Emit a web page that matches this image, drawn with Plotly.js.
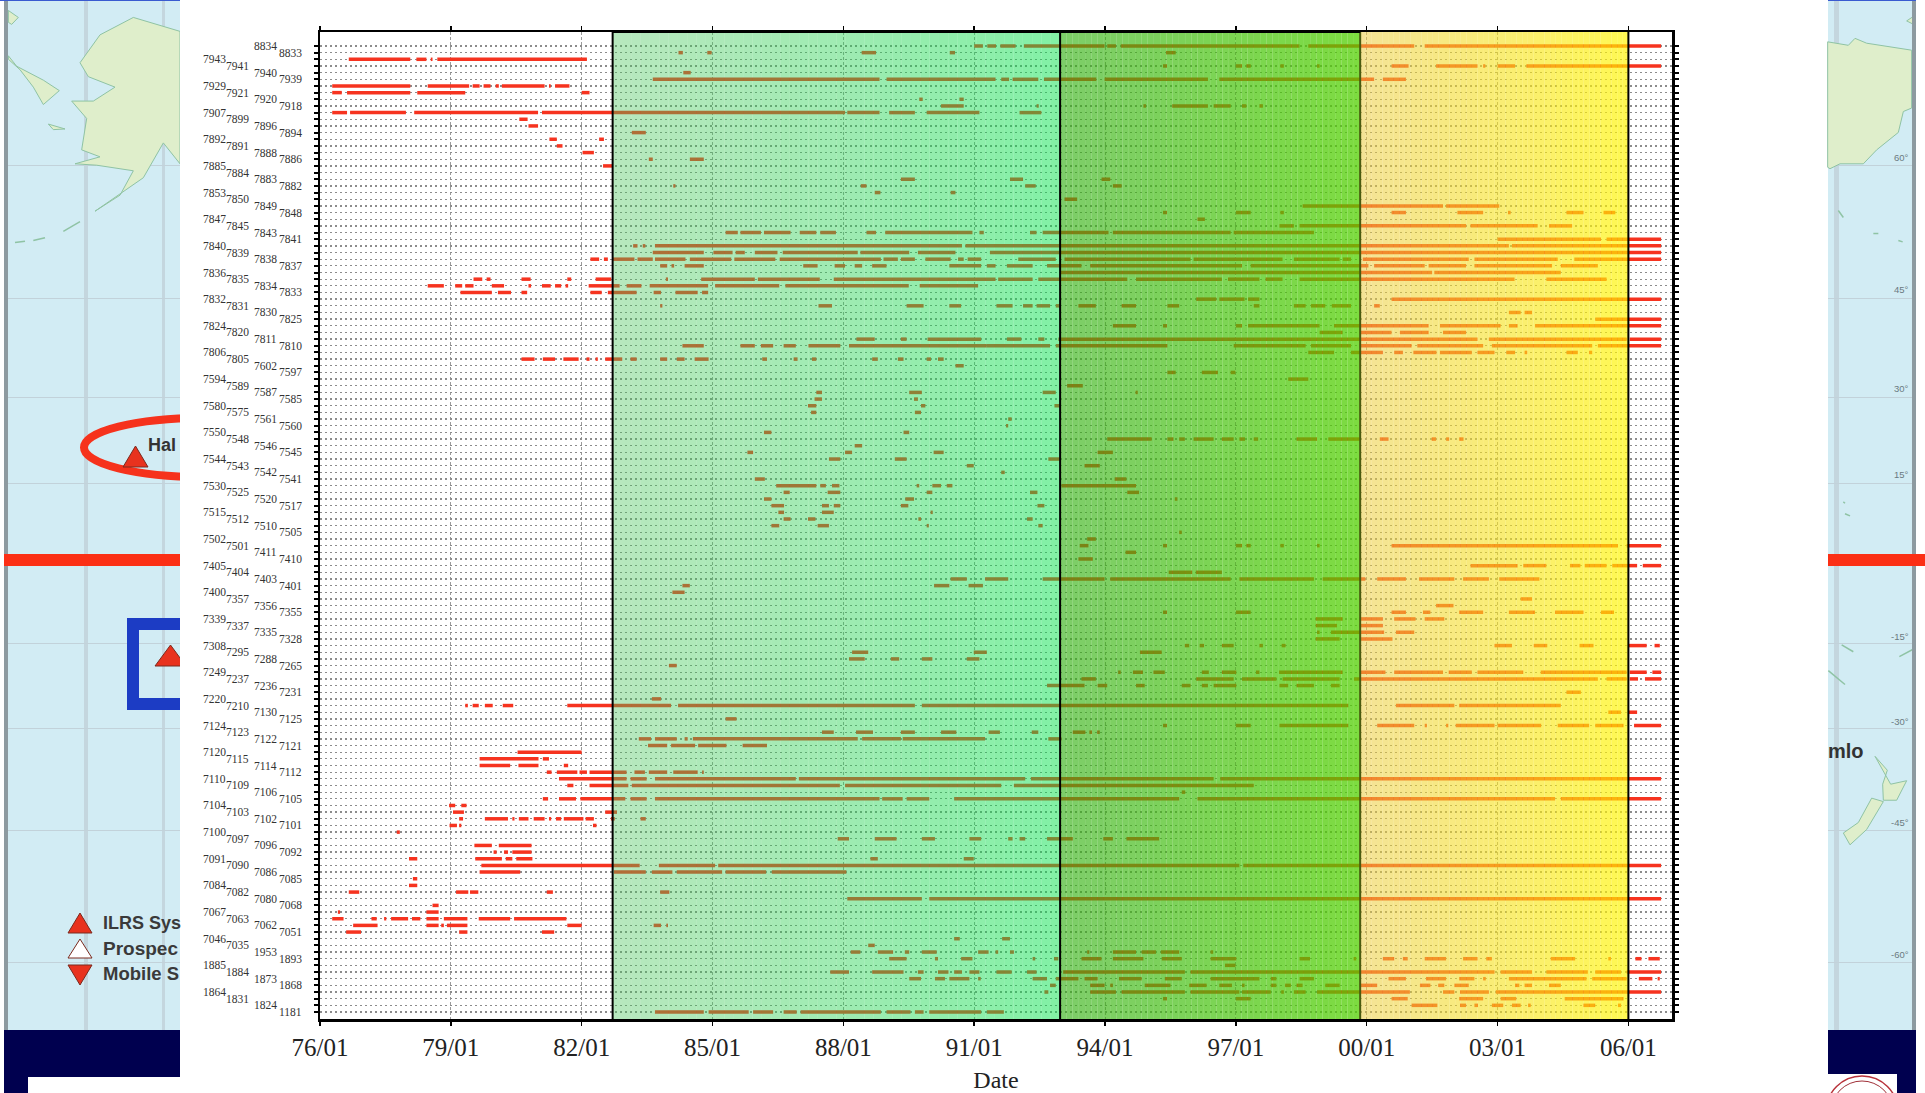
<!DOCTYPE html>
<html><head><meta charset="utf-8">
<script src="https://cdn.plot.ly/plotly-3.0.1.min.js"></script>
<style>html,body{margin:0;padding:0;background:#fff;overflow:hidden}#chart{width:1925px;height:1093px}</style>
</head><body><div id="chart"></div>
<script>
// Stations, top to bottom
const stations=['8834','8833','7943','7941','7940','7939','7929','7921','7920','7918','7907','7899','7896','7894','7892','7891','7888','7886','7885','7884','7883','7882','7853','7850','7849','7848','7847','7845','7843','7841','7840','7839','7838','7837','7836','7835','7834','7833','7832','7831','7830','7825','7824','7820','7811','7810','7806','7805','7602','7597','7594','7589','7587','7585','7580','7575','7561','7560','7550','7548','7546','7545','7544','7543','7542','7541','7530','7525','7520','7517','7515','7512','7510','7505','7502','7501','7411','7410','7405','7404','7403','7401','7400','7357','7356','7355','7339','7337','7335','7328','7308','7295','7288','7265','7249','7237','7236','7231','7220','7210','7130','7125','7124','7123','7122','7121','7120','7115','7114','7112','7110','7109','7106','7105','7104','7103','7102','7101','7100','7097','7096','7092','7091','7090','7086','7085','7084','7082','7080','7068','7067','7063','7062','7051','7046','7035','1953','1893','1885','1884','1873','1868','1864','1831','1824','1181'];
// Observation spans per station, decimal years [start,end]
const none=[];
const s8834=[[1991.0,1991.2],[1991.3,1991.5],[1991.6,1991.95],[1992.14,1993.99],[1994.05,1994.25],[1994.36,1998.46],[1998.66,2001.09],[2001.33,2006.75]];
const s8833=[[1984.22,1984.32],[1984.88,1984.98],[1988.42,1988.75],[1990.44,1990.56],[1995.4,1995.62]];
const s7943=[[1976.66,1978.07],[1978.21,1978.44],[1978.54,1978.58],[1978.69,1982.12]];
const s7941=[[1995.33,1995.42],[1997.0,1997.14],[1997.24,1997.34],[1998.02,1998.1],[1998.86,1998.92],[2000.57,2000.96],[2001.59,2002.54],[2002.67,2002.72],[2003.0,2003.4],[2003.66,2006.75]];
const s7940=[[1984.33,1984.5]];
const s7939=[[1983.63,1988.83],[1988.99,1991.49],[1991.62,1991.8],[1991.88,1992.47],[1992.6,1993.8],[1993.99,1996.36],[1996.62,2000.17],[2000.37,2000.9]];
const s7929=[[1976.28,1978.07],[1978.47,1979.42],[1979.5,1979.66],[1979.75,1979.91],[1980.03,1980.1],[1980.17,1981.15],[1981.25,1981.29],[1981.39,1981.72]];
const s7921=[[1976.28,1976.5],[1976.62,1978.07],[1978.23,1979.33],[1982.0,1982.18]];
const s7920=[[1989.74,1989.82],[1990.66,1990.76]];
const s7918=[[1990.24,1990.76],[1992.43,1992.48],[1994.88,1994.94],[1995.54,1996.36],[1996.49,1996.88],[1997.14,1997.24],[1997.54,1997.62]];
const s7907=[[1976.28,1976.62],[1976.69,1977.97],[1978.16,1981.0],[1981.09,1988.04],[1988.09,1988.83],[1989.05,1989.64],[1989.91,1991.12],[1992.04,1992.54]];
const s7899=[[1980.57,1980.76]];
const s7896=[[1980.78,1981.0]];
const s7894=[[1983.15,1983.47]];
const s7892=[[1981.26,1981.43],[1982.4,1982.51]];
const s7891=[[1981.43,1981.56]];
const s7888=[[1982.02,1982.28]];
const s7886=[[1983.54,1983.63],[1984.48,1984.8]];
const s7885=[[1982.49,1982.7]];
const s7883=[[1989.32,1989.64],[1991.82,1992.12],[1993.92,1994.12]];
const s7882=[[1984.1,1984.15],[1988.4,1988.53],[1992.17,1992.41],[1994.18,1994.38]];
const s7853=[[1988.72,1988.85],[1990.46,1990.57]];
const s7850=[[1993.07,1993.36]];
const s7849=[[1998.53,2001.75],[2001.82,2003.04]];
const s7848=[[1995.33,1995.42],[1997.0,1997.34],[1998.02,1998.1],[2000.57,2000.9],[2002.08,2002.67],[2003.24,2003.3],[2004.58,2004.97],[2005.43,2005.7]];
const s7847=[[1996.12,1996.29]];
const s7845=[[1998.0,1998.33],[1998.46,2002.28],[2002.38,2003.92],[2004.18,2004.71]];
const s7843=[[1985.3,1985.58],[1985.64,1986.11],[1986.18,1986.79],[1987.0,1987.38],[1987.47,1987.83],[1988.53,1988.75],[1988.96,1990.96],[1991.12,1991.22],[1992.28,1992.43],[1992.57,1994.08],[1994.18,1996.88],[1996.95,1998.79]];
const s7841=[[2003.0,2005.37],[2005.5,2006.75]];
const s7840=[[1983.18,1983.28],[1983.4,1983.46],[1983.68,1990.72],[1990.8,2003.26],[2003.33,2006.75]];
const s7839=[[1983.63,1984.8],[1985.02,1985.46],[1985.53,1985.74],[1985.97,1986.49],[1986.61,1988.33],[1988.39,1989.51],[1989.71,1990.57],[1991.36,2006.75]];
const s7838=[[1982.2,1982.4],[1982.51,1982.6],[1982.72,1983.21],[1983.28,1983.63],[1983.68,1984.38],[1984.48,1985.43],[1985.5,1986.44],[1986.54,1988.86],[1988.92,1989.25],[1989.32,1989.64],[1989.88,1990.46],[1990.63,1990.76],[1990.85,1991.16],[1992.01,1992.87],[1993.07,1995.96],[1996.03,1998.07],[1998.33,1999.38],[1999.45,1999.64],[1999.91,2002.34],[2002.47,2004.38],[2004.76,2006.75]];
const s7837=[[1983.8,1983.96],[1984.06,1984.12],[1984.36,1984.8],[1987.08,1987.41],[1987.8,1988.04],[1988.26,1988.43],[1988.66,1988.99],[1990.43,1991.16],[1991.29,1991.49],[1991.75,1992.34],[1992.67,1993.46],[1993.66,1997.14],[1997.34,2000.04],[2000.17,2001.33],[2001.42,2002.28],[2002.47,2004.25],[2004.45,2005.3]];
const s7836=[[1992.97,2001.5],[2001.55,2004.45]];
const s7835=[[1979.52,1979.72],[1979.82,1979.91],[1980.62,1980.83],[1981.67,1981.76],[1982.32,1982.68],[1983.93,1983.98],[1984.74,1985.97],[1986.04,1987.46],[1987.78,1991.49],[1991.55,1992.34],[1992.47,1994.51],[1994.71,1996.68],[1996.82,1997.54],[1997.68,1998.07],[1998.46,2003.39],[2004.12,2005.5]];
const s7834=[[1978.47,1978.84],[1979.1,1979.26],[1979.33,1979.52],[1979.94,1980.22],[1980.78,1980.84],[1981.09,1981.29],[1981.39,1981.53],[1981.63,1981.69],[1982.16,1982.87],[1983.03,1983.37],[1983.56,1984.9],[1985.06,1986.53],[1986.67,1989.5],[1989.75,1991.09]];
const s7833=[[1979.22,1979.94],[1980.08,1980.38],[1980.62,1980.75],[1982.2,1982.46],[1982.6,1983.26],[1983.65,1983.82],[1984.15,1984.66],[1984.76,1984.9]];
const s7832=[[1996.09,1996.55],[1996.62,1997.2],[1997.28,1997.54],[2000.57,2006.75]];
const s7831=[[1983.8,1983.85],[1987.43,1987.74],[1989.45,1989.84],[1990.43,1990.7],[1991.51,1991.88],[1992.12,1992.34],[1992.43,1992.74],[1992.87,1992.96],[1993.39,1993.79],[1994.38,1994.71],[1995.43,1995.7],[1997.41,1997.54],[1998.33,1998.6],[1998.72,1999.05],[1999.2,1999.64],[2000.17,2000.3]];
const s7830=[[2003.26,2003.53],[2003.62,2003.79]];
const s7825=[[2005.24,2006.75]];
const s7824=[[1994.18,1994.71],[1995.33,1995.42],[1997.0,1997.14],[1997.28,1998.92],[1999.25,2001.42],[2001.68,2003.07],[2003.26,2003.46],[2003.86,2006.75]];
const s7820=[[1998.92,1999.45],[1999.84,2000.57],[2000.76,2001.42],[2001.75,2002.28]];
const s7811=[[1988.3,1988.72],[1989.32,1989.45],[1989.93,1991.16],[1991.75,1992.08],[1992.47,1992.61],[1992.93,2002.54],[2002.8,2005.96],[2006.03,2006.75]];
const s7810=[[1984.31,1984.8],[1985.64,1985.97],[1986.11,1986.39],[1986.63,1986.91],[1987.2,1987.93],[1988.13,1991.29],[1991.29,1992.74],[1992.87,1995.43],[1996.95,1998.6],[1998.72,1999.64],[1999.84,2001.03],[2001.16,2002.67],[2002.87,2005.17],[2005.3,2006.75]];
const s7806=[[1998.66,1999.25],[1999.64,2000.37],[2000.63,2000.83],[2001.07,2001.6],[2001.68,2002.41],[2002.54,2002.93],[2003.2,2003.4],[2003.62,2003.68],[2004.58,2004.84],[2005.1,2005.17]];
const s7805=[[1980.62,1980.92],[1981.11,1981.39],[1981.58,1981.93],[1982.11,1982.18],[1982.32,1982.37],[1982.54,1982.93],[1983.12,1983.26],[1983.8,1983.96],[1984.18,1984.36],[1984.59,1984.91],[1986.14,1986.25],[1986.86,1986.95],[1987.28,1987.38],[1988.66,1988.79],[1989.25,1989.38],[1989.91,1990.01],[1990.17,1990.3]];
const s7602=[[1990.57,1990.76]];
const s7597=[[1995.43,1995.62],[1996.22,1996.59],[1996.88,1996.99]];
const s7594=[[1998.2,1998.66]];
const s7589=[[1993.13,1993.49]];
const s7587=[[1987.38,1987.51],[1989.51,1989.8],[1992.57,1992.87],[1994.7,1994.75]];
const s7585=[[1987.34,1987.51],[1989.62,1989.71]];
const s7580=[[1987.19,1987.38],[1989.78,1989.88],[1992.84,1992.96]];
const s7575=[[1987.26,1987.38],[1989.64,1989.78]];
const s7561=[[1991.78,1991.86]];
const s7560=[[1991.73,1991.78]];
const s7550=[[1986.18,1986.35],[1989.38,1989.51]];
const s7548=[[1994.05,1995.07],[1995.43,1995.57],[1995.7,1995.83],[1996.03,1996.49],[1996.68,1996.95],[1997.08,1997.21],[1997.41,1997.51],[1998.39,1998.86],[1999.12,1999.84],[2000.3,2000.5],[2001.49,2001.59],[2001.82,2001.89],[2002.12,2002.22]];
const s7546=[[1988.26,1988.43]];
const s7545=[[1985.8,1985.93],[1988.04,1988.2],[1990.07,1990.3],[1993.83,1994.18]];
const s7544=[[1987.67,1987.93],[1989.18,1989.45],[1992.7,1992.96]];
const s7543=[[1990.83,1990.99],[1993.53,1993.88]];
const s7542=[[1991.62,1991.7]];
const s7541=[[1985.97,1986.2],[1994.22,1994.49]];
const s7530=[[1986.46,1987.38],[1987.47,1987.6],[1987.74,1987.91],[1989.68,1989.74],[1990.04,1990.24],[1990.37,1990.5],[1993.0,1994.71]];
const s7525=[[1986.63,1986.77],[1987.64,1987.93],[1989.91,1990.04],[1992.28,1992.45],[1994.51,1994.78]];
const s7520=[[1986.18,1986.35],[1989.42,1989.62],[1995.6,1995.66]];
const s7517=[[1986.35,1986.64],[1987.51,1987.67],[1987.78,1987.93],[1989.32,1989.49],[1992.45,1992.61]];
const s7515=[[1986.51,1986.64],[1987.51,1987.78],[1990.0,1990.05]];
const s7512=[[1986.63,1986.79],[1987.19,1987.36],[1989.72,1989.78],[1992.21,1992.34]];
const s7510=[[1986.35,1986.53],[1987.41,1987.67],[1989.91,1989.96],[1992.47,1992.57]];
const s7505=[[1995.7,1995.76]];
const s7502=[[1993.59,1993.79]];
const s7501=[[1993.42,1993.62],[1995.33,1995.42],[1997.0,1997.14],[1997.24,1997.34],[1998.02,1998.1],[1998.86,1998.92],[2000.57,2002.87],[2002.87,2005.76],[2005.96,2006.75]];
const s7411=[[1994.47,1994.71]];
const s7410=[[1993.39,1993.72]];
const s7405=[[2002.38,2003.46],[2003.59,2004.12],[2004.66,2004.9],[2005.0,2005.5],[2005.63,2006.2],[2006.33,2006.75]];
const s7404=[[1995.46,1996.0],[1996.08,1996.68]];
const s7403=[[1990.46,1990.83],[1991.25,1991.78],[1992.57,1993.99],[1994.12,1996.88],[1997.08,1998.79],[1998.99,1999.97],[2000.24,2000.9],[2001.2,2002.01],[2002.21,2002.8],[2003.04,2003.96]];
const s7401=[[1984.31,1984.48],[1990.08,1990.43],[1990.87,1991.2]];
const s7400=[[1984.08,1984.36]];
const s7357=[[2003.53,2003.79]];
const s7356=[[2001.59,2001.99]];
const s7355=[[1995.33,1995.42],[1997.0,1997.34],[2000.57,2000.9],[2001.29,2001.46],[2002.12,2002.67],[2003.26,2003.86],[2004.32,2004.97],[2005.37,2005.67]];
const s7339=[[1998.83,1999.45],[1999.84,2000.37],[2000.63,2001.12],[2001.33,2001.78]];
const s7337=[[1998.83,1999.32],[1999.84,2000.37]];
const s7335=[[1998.86,1998.92],[1999.18,2000.4],[2000.67,2001.09]];
const s7328=[[1998.83,1999.38],[1999.84,2000.59]];
const s7308=[[1995.83,1995.93],[1996.17,1996.27],[1996.68,1996.95],[1997.54,1997.62],[1998.05,1998.14],[2002.93,2003.33],[2003.83,2004.14],[2004.88,2005.2],[2006.0,2006.42],[2006.6,2006.72]];
const s7295=[[1988.2,1988.57],[1990.99,1991.29],[1994.8,1995.3]];
const s7288=[[1988.13,1988.49],[1989.09,1989.28],[1989.8,1990.04],[1990.83,1991.12]];
const s7265=[[1984.0,1984.18]];
const s7249=[[1994.3,1994.36],[1994.64,1994.87],[1995.11,1995.37],[1996.22,1996.38],[1996.68,1997.01],[1997.46,1997.54],[1997.99,1999.45],[1999.84,2000.43],[2000.63,2001.75],[2001.88,2002.41],[2002.54,2003.59],[2003.99,2005.96],[2006.03,2006.42],[2006.55,2006.75]];
const s7237=[[1993.46,1993.79],[1996.09,1996.95],[1997.14,1997.93],[1998.07,1999.38],[1999.71,2005.3],[2005.5,2005.96],[2006.03,2006.22],[2006.38,2006.75]];
const s7236=[[1992.67,1993.53],[1993.83,1994.05],[1994.71,1994.91],[1995.76,1995.96],[1996.22,1996.36],[1996.49,1997.01],[1998.0,1998.2],[1998.39,1998.79],[1999.18,1999.38]];
const s7231=[[2004.58,2004.91]];
const s7220=[[1983.61,1983.82]];
const s7210=[[1979.33,1979.39],[1979.5,1979.64],[1979.78,1979.96],[1980.19,1980.43],[1981.67,1984.05],[1984.21,1989.64],[1989.8,1999.58],[2000.67,2002.01],[2002.12,2004.45]];
const s7130=[[2005.54,2005.83],[2006.0,2006.2]];
const s7125=[[1985.3,1985.55]];
const s7124=[[1995.33,1995.42],[1997.0,1997.34],[1998.0,1999.58],[2000.24,2001.09],[2001.33,2001.38],[2001.82,2001.87],[2002.04,2002.93],[2003.0,2004.0],[2004.38,2005.1],[2005.24,2005.89],[2006.13,2006.75]];
const s7123=[[1987.51,1987.78],[1988.29,1988.68],[1989.32,1989.64],[1990.24,1990.59],[1991.33,1991.59],[1992.32,1992.47],[1993.26,1993.55],[1993.64,1993.7],[1993.82,1993.88]];
const s7122=[[1983.31,1983.59],[1983.68,1984.18],[1984.36,1984.43],[1984.55,1988.33],[1988.43,1989.32],[1989.36,1991.25],[1992.7,1993.0]];
const s7121=[[1983.52,1983.96],[1984.05,1984.6],[1984.67,1985.32],[1985.69,1986.25]];
const s7120=[[1980.53,1982.0]];
const s7115=[[1979.66,1981.01],[1981.11,1981.25]];
const s7114=[[1979.66,1980.36],[1980.55,1981.01],[1981.59,1981.69]];
const s7112=[[1981.2,1981.31],[1981.43,1981.9],[1981.95,1982.12],[1982.18,1983.03],[1983.21,1983.45],[1983.54,1983.96],[1984.1,1984.66],[1984.76,1984.8]];
const s7110=[[1981.48,1983.03],[1983.12,1983.49],[1983.68,1986.91],[1986.98,1992.17],[1992.3,1996.49],[1996.64,2006.75]];
const s7109=[[1981.67,1981.81],[1982.18,1983.07],[1983.15,1987.92],[1988.04,1991.62],[1991.91,1997.41]];
const s7106=[[1995.76,1995.84]];
const s7105=[[1981.11,1981.23],[1981.48,1981.87],[1981.97,1983.0],[1983.12,1983.49],[1983.68,1988.83],[1988.89,1989.36],[1989.45,1989.97],[1990.54,1995.7],[1996.12,2004.32],[2004.45,2006.75]];
const s7104=[[1978.96,1979.1],[1979.24,1979.36]];
const s7103=[[1979.05,1979.3],[1982.54,1982.81]];
const s7102=[[1979.19,1979.28],[1979.78,1980.31],[1980.41,1980.46],[1980.56,1980.78],[1980.9,1981.15],[1981.25,1981.3],[1981.41,1981.53],[1981.59,1982.04],[1982.09,1982.28],[1982.67,1982.76],[1983.35,1983.47]];
const s7101=[[1978.97,1979.14],[1979.19,1979.24],[1982.26,1982.34]];
const s7100=[[1977.76,1977.83]];
const s7097=[[1987.87,1988.13],[1988.72,1989.22],[1989.8,1990.1],[1990.89,1991.16],[1991.78,1991.88],[1992.04,1992.17],[1992.67,1993.26],[1993.96,1994.18],[1994.49,1995.24]];
const s7096=[[1979.54,1979.94],[1980.1,1980.85]];
const s7092=[[1979.98,1980.05],[1980.22,1980.31],[1980.41,1980.85]];
const s7091=[[1978.04,1978.23],[1979.56,1980.17],[1980.26,1980.41],[1980.5,1980.87],[1988.62,1988.79],[1990.76,1990.99]];
const s7090=[[1979.7,1983.33],[1983.77,1985.06],[1985.13,1997.08],[1997.17,2006.75]];
const s7086=[[1979.66,1980.59],[1982.74,1983.47],[1983.61,1984.08],[1984.18,1985.22],[1985.3,1986.23],[1986.36,1988.07]];
const s7085=[[1978.13,1978.23]];
const s7084=[[1978.04,1978.23]];
const s7082=[[1976.66,1976.9],[1979.12,1979.4],[1979.44,1979.63],[1981.2,1981.34],[1983.8,1984.01]];
const s7080=[[1988.09,1989.8],[1989.97,2006.75]];
const s7068=[[1978.58,1978.72]];
const s7067=[[1976.41,1976.46],[1978.44,1978.72]];
const s7063=[[1976.28,1976.54],[1977.18,1977.3],[1977.47,1977.52],[1977.63,1978.02],[1978.11,1978.3],[1978.44,1978.72],[1978.84,1979.38],[1979.64,1980.36],[1980.45,1981.65]];
const s7062=[[1976.76,1977.32],[1978.44,1978.72],[1978.78,1978.84],[1978.91,1979.38],[1981.67,1982.0],[1983.65,1983.82],[1983.94,1983.98]];
const s7051=[[1976.6,1976.94],[1979.19,1979.38],[1981.09,1981.37]];
const s7046=[[1990.54,1990.67],[1991.64,1991.82]];
const s7035=[[1988.57,1988.72]];
const s1953=[[1988.17,1988.39],[1988.79,1989.14],[1989.41,1989.51],[1989.8,1990.14],[1991.09,1991.33],[1991.49,1991.55],[1991.82,1991.91],[1993.59,1993.64],[1994.18,1994.71],[1994.84,1995.17],[1995.28,1995.7],[1996.42,1996.48]];
const s1893=[[1989.05,1989.45],[1990.1,1990.17],[1990.7,1990.96],[1992.34,1992.4],[1992.83,1992.93],[1993.46,1993.92],[1994.18,1994.88],[1995.3,1995.76],[1996.42,1997.01],[1998.46,1998.7],[1999.7,1999.76],[2000.37,2000.63],[2000.83,2000.94],[2001.33,2001.82],[2002.21,2002.54],[2002.74,2002.87],[2004.22,2004.78],[2005.54,2005.6],[2006.16,2006.3],[2006.46,2006.72]];
const s1885=[[1996.75,1996.99]];
const s1884=[[1987.7,1988.13],[1988.66,1989.38],[1989.71,1989.84],[1990.17,1990.41],[1990.54,1990.72],[1990.89,1991.12],[1991.51,1991.86],[1992.21,1992.43],[1993.04,1995.83],[1995.96,2002.93],[2003.07,2003.79],[2004.12,2005.07],[2005.24,2005.83],[2005.96,2006.75]];
const s1873=[[1989.51,1989.78],[1990.1,1990.33],[1990.43,1990.89],[1991.09,1991.15],[1992.34,1992.67],[1992.87,1993.39],[1993.53,1993.83],[1994.32,1994.84],[1995.37,1995.76],[1996.42,1997.54],[1997.8,1997.93],[1998.46,1998.79],[2000.5,2000.9],[2001.36,2001.82],[2002.12,2002.47],[2002.67,2002.73],[2003.26,2005.04],[2005.17,2005.96],[2006.24,2006.55],[2006.67,2006.72]];
const s1868=[[1992.74,1992.87],[1993.66,1993.99],[1994.12,1994.18],[1994.91,1995.5],[1995.93,1996.33],[1996.62,1996.91],[1997.14,1997.2],[1997.8,1997.93],[1998.13,1998.26],[1998.39,1998.53],[1999.05,1999.38],[1999.84,2000.24],[2001.22,2001.46],[2001.64,2001.78],[2002.01,2002.34],[2003.4,2003.5],[2003.62,2003.79],[2004.18,2004.45]];
const s1864=[[1992.61,1992.7],[1993.66,1994.25],[1994.38,1995.83],[1995.96,1997.08],[1997.14,1997.8],[1998.04,1998.1],[1998.33,1998.6],[1998.86,2000.99],[2001.75,2002.01],[2002.14,2002.8],[2002.96,2006.75]];
const s1831=[[1995.33,1995.42],[1997.0,1997.34],[2000.57,2000.94],[2002.12,2002.67],[2003.07,2003.43],[2004.54,2005.89]];
const s1824=[[2001.03,2001.62],[2002.14,2002.28],[2002.47,2002.55],[2002.87,2003.13],[2003.33,2003.53],[2003.7,2003.76],[2004.97,2005.24],[2005.76,2005.83]];
const s1181=[[1983.68,1984.8],[1984.91,1985.83],[1985.93,1986.39],[1986.63,1986.93],[1987.02,1988.86],[1988.99,1989.54],[1989.64,1989.84],[1989.97,1991.16],[1991.29,1991.68]];
const rows=[s8834,s8833,s7943,s7941,s7940,s7939,s7929,s7921,s7920,s7918,s7907,s7899,s7896,s7894,s7892,s7891,s7888,s7886,s7885,none,s7883,s7882,s7853,s7850,s7849,s7848,s7847,s7845,s7843,s7841,s7840,s7839,s7838,s7837,s7836,s7835,s7834,s7833,s7832,s7831,s7830,s7825,s7824,s7820,s7811,s7810,s7806,s7805,s7602,s7597,s7594,s7589,s7587,s7585,s7580,s7575,s7561,s7560,s7550,s7548,s7546,s7545,s7544,s7543,s7542,s7541,s7530,s7525,s7520,s7517,s7515,s7512,s7510,s7505,s7502,s7501,s7411,s7410,s7405,s7404,s7403,s7401,s7400,s7357,s7356,s7355,s7339,s7337,s7335,s7328,s7308,s7295,s7288,s7265,s7249,s7237,s7236,s7231,s7220,s7210,s7130,s7125,s7124,s7123,s7122,s7121,s7120,s7115,s7114,s7112,s7110,s7109,s7106,s7105,s7104,s7103,s7102,s7101,s7100,s7097,s7096,s7092,s7091,s7090,s7086,s7085,s7084,s7082,s7080,s7068,s7067,s7063,s7062,s7051,s7046,s7035,s1953,s1893,s1885,s1884,s1873,s1868,s1864,s1831,s1824,s1181];
const tickYears=[1976,1979,1982,1985,1988,1991,1994,1997,2000,2003,2006];
const tickLabels=['76/01','79/01','82/01','85/01','88/01','91/01','94/01','97/01','00/01','03/01','06/01'];
// Era bands: start, end
const bandEdges=[[1982.71,1992.97],[1992.97,1999.85],[1999.85,2006.0]];

const W=1925,H=1093,L=320,R=1672,T=32,B=1019;
const fx=p=>(p-L)/(R-L), fy=p=>1-(p-T)/(B-T);
const xs=[],ys=[];
rows.forEach((r,i)=>r.forEach(sp=>{xs.push(sp[0],sp[1],null);ys.push(stations[i],stations[i],null);}));

const shapes=[];
const rect=(x0,y0,x1,y1,fill,extra)=>shapes.push(Object.assign({type:'rect',xref:'paper',yref:'paper',x0:fx(x0),x1:fx(x1),y0:fy(y0),y1:fy(y1),fillcolor:fill,line:{width:0},layer:'below'},extra||{}));
const poly=(pts,fill,stroke,w)=>shapes.push({type:'path',xref:'paper',yref:'paper',path:'M'+pts.map(p=>fx(p[0])+','+fy(p[1])).join('L')+(fill?'Z':''),fillcolor:fill||'rgba(0,0,0,0)',line:{color:stroke,width:w},layer:'below'});
const lz=a=>a.map(p=>[p[0]/3,p[1]/1.4346]), rz=a=>a.map(p=>[1800+p[0]/3,p[1]/1.4346]);
const ocean='#d2ecf4',land='#dfeecb',coast='#8fc3a4',gridc='#c2d2da';
const latLines=[165,298,397,483,643,728,830,962];
// left map panel
rect(4,0,180,1030,ocean);
rect(4,0,8,1030,'#8d9aa0');
rect(84,0,88,1030,'#c4d6de');rect(162,0,165,1030,'#c4d6de');
latLines.forEach(y=>rect(8,y,180,y+1,gridc));
poly(lz([[540,45],[400,25],[300,50],[240,90],[265,110],[345,125],[280,145],[215,145],[260,170],[245,215],[300,225],[225,235],[290,237],[400,245],[360,280],[285,303],[430,255],[490,205],[540,235]]),land,coast,1);
poly(lz([[25,85],[60,100],[100,125],[130,150],[178,130],[130,115],[50,95],[25,80]]),land,coast,1);
poly(lz([[25,15],[55,25],[35,35],[25,32]]),land,coast,1);
poly(lz([[145,178],[195,185],[160,186]]),land,coast,1);
[[[45,348],[75,346]],[[100,345],[135,341]],[[190,332],[240,318]]].forEach(a=>poly(lz(a),null,coast,1.5));
shapes.push({type:'circle',xref:'paper',yref:'paper',x0:fx(84),x1:fx(320),y0:fy(418),y1:fy(477),fillcolor:'rgba(0,0,0,0)',line:{color:'#f6321c',width:8},layer:'below'});
shapes.push({type:'rect',xref:'paper',yref:'paper',x0:fx(133),x1:fx(320),y0:fy(624),y1:fy(704),fillcolor:'rgba(0,0,0,0)',line:{color:'#1c3cc4',width:12},layer:'below'});
const tri=(x0,x1,y0,y1,fill)=>poly([[x0,y1],[(x0+x1)/2,y0],[x1,y1]],fill,'#7a2a1e',1);
tri(123,148,446,467,'#e8321e');tri(155,186,645,666,'#e8321e');
tri(68,92,913,933,'#e8321e');tri(68,92,939,958,'#ffffff');tri(68,92,985,965,'#e8321e');
rect(4,554,180,566,'#fb2f15');rect(4,1030,180,1093,'#00004f');rect(28,1077,180,1093,'#ffffff');
// white sheet holding the chart
rect(180,0,1828,1093,'#ffffff');
// right map panel
rect(1828,0,1916,1030,ocean);
rect(1834,0,1839,1030,'#c4d6de');
latLines.forEach(y=>rect(1828,y,1912,y+1,gridc));
poly(rz([[83,60],[145,65],[165,55],[200,62],[335,72],[335,155],[310,160],[295,190],[230,215],[190,235],[120,235],[90,242],[83,240]]),land,coast,1);
poly(rz([[320,30],[345,22],[345,36]]),land,coast,1);
poly(rz([[225,1085],[262,1105],[248,1125],[250,1148],[290,1148],[320,1120],[272,1125]]),land,coast,1);
poly(rz([[130,1195],[150,1212],[200,1190],[250,1150],[215,1145],[175,1180]]),land,coast,1);
[[[115,302],[130,312]],[[220,335],[235,335]],[[295,345],[308,347]],[[130,720],[135,722]],[[135,737],[150,740]],[[85,962],[135,982]],[[125,925],[160,935]],[[298,942],[345,930]]].forEach(a=>poly(rz(a),null,coast,1.5));
rect(1912,0,1916,1030,'#8d9aa0');
rect(1828,554,1925,566,'#fb2f15');
rect(1828,1030,1916,1093,'#00004f');rect(1828,1074,1897,1093,'#ffffff');
shapes.push({type:'circle',xref:'paper',yref:'paper',x0:fx(1826),x1:fx(1898),y0:fy(1076),y1:fy(1148),fillcolor:'rgba(0,0,0,0)',line:{color:'#b8323a',width:1.5},layer:'below'});
shapes.push({type:'circle',xref:'paper',yref:'paper',x0:fx(1831),x1:fx(1893),y0:fy(1081),y1:fy(1143),fillcolor:'rgba(0,0,0,0)',line:{color:'#a03038',width:1},layer:'below'});
rect(0,0,180,1,'#3a5bd0');rect(1828,0,1916,1,'#3a5bd0');
// gradient eras drawn as narrow translucent steps above the marks
const grad=[[[77,197,92,.40],[5,225,75,.50]],[[49,176,17,.63],[81,208,0,.75]],[[236,205,64,.55],[255,245,0,.68]]];
const STEPS=48;
bandEdges.forEach((e,b)=>{for(let k=0;k<STEPS;k++){const t=(k+.5)/STEPS,c=grad[b][0].map((v,j)=>v+(grad[b][1][j]-v)*t);
 shapes.push({type:'rect',xref:'x',yref:'paper',x0:e[0]+(e[1]-e[0])*k/STEPS,x1:e[0]+(e[1]-e[0])*(k+1)/STEPS,y0:0,y1:1,fillcolor:`rgba(${c[0].toFixed(0)},${c[1].toFixed(0)},${c[2].toFixed(0)},${c[3].toFixed(3)})`,line:{width:0},layer:'above'});}});
[bandEdges[0][0],bandEdges[1][0],bandEdges[2][0],bandEdges[2][1]].forEach((x,i)=>shapes.push({type:'line',xref:'x',yref:'paper',x0:x,x1:x,y0:0,y1:1,line:{color:i==2?'#4a5a10':'#000',width:2},layer:'above'}));
shapes.push({type:'line',xref:'x',yref:'paper',x0:bandEdges[0][0],x1:bandEdges[1][1],y0:1,y1:1,line:{color:'#000',width:2},layer:'above'});

const cols=[-94.3,-70.6,-43.3,-17.6];
const annotations=stations.map((s,i)=>({text:s,xref:'paper',x:0,xanchor:'right',xshift:cols[(i+2)%4]+1,yref:'y',y:i,yanchor:'middle',showarrow:false,font:{family:'Liberation Serif',size:11.5,color:'#333'},borderpad:0}));
const deco=(t,x,y,size,color,anchor)=>annotations.push({text:t,xref:'paper',yref:'paper',x:fx(x),y:fy(y),xanchor:anchor||'left',yanchor:'middle',showarrow:false,font:{family:'Liberation Sans',size:size,color:color},borderpad:0});
deco('<b>Hal</b>',147,445,18,'#333');
deco('<b>ILRS Sys</b>',102,923,18,'#3a3a3a');deco('<b>Prospec</b>',102,948,19,'#3a3a3a');deco('<b>Mobile S</b>',102,973,18.5,'#3a3a3a');
deco('<b>mlo</b>',1827,751,20,'#333');
[['60°',157],['45°',289],['30°',389],['15°',474],['-15°',636],['-30°',721],['-45°',822],['-60°',954]].forEach(d=>deco(d[0],1910,d[1],9.5,'#6b7a80','right'));

const trace={type:'scatter',mode:'lines',x:xs,y:ys,line:{color:'#f6331f',width:3.5},connectgaps:false,hoverinfo:'skip',cliponaxis:false};
const layout={width:W,height:H,margin:{l:L,r:W-R,t:T,b:H-B,pad:0},paper_bgcolor:'rgba(0,0,0,0)',plot_bgcolor:'rgba(0,0,0,0)',showlegend:false,
 shapes,annotations,
 xaxis:{type:'linear',range:[1976,2007],tickmode:'array',tickvals:tickYears,ticktext:tickLabels,ticks:'outside',ticklen:4,tickwidth:1.5,tickcolor:'#000',showline:true,linewidth:2.5,linecolor:'#000',mirror:'ticks',showgrid:true,gridcolor:'#9a9a9a',griddash:'3px,2px',gridwidth:1,zeroline:false,tickfont:{family:'Liberation Serif',size:25,color:'#222'},title:{text:'Date',font:{family:'Liberation Serif',size:24,color:'#222'},standoff:12}},
 yaxis:{type:'category',categoryorder:'array',categoryarray:stations,range:[146.05,-2.1],tickmode:'array',tickvals:stations,showticklabels:false,ticks:'outside',ticklen:4,tickwidth:2,tickcolor:'#000',showline:true,linewidth:2.5,linecolor:'#000',mirror:'ticks',showgrid:true,gridcolor:'#8c8c8c',griddash:'1.7px,3.3px',gridwidth:1.3,zeroline:false}};
Plotly.newPlot('chart',[trace],layout,{displayModeBar:false,staticPlot:true});
</script></body></html>
